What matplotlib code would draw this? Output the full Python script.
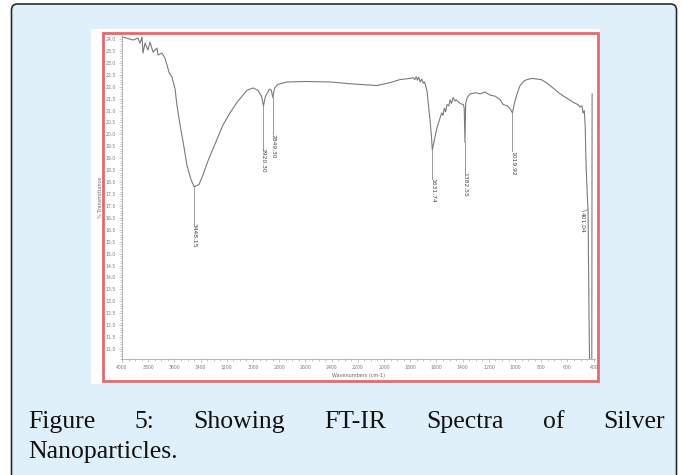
import matplotlib.pyplot as plt
import numpy as np
from matplotlib.patches import FancyBboxPatch, Rectangle
from matplotlib.ticker import MultipleLocator, FormatStrFormatter

# FT-IR spectrum (wavenumber cm-1, % transmittance)
wavenumber = [4000, 3992, 3916, 3878, 3863, 3847, 3840, 3824, 3802, 3786, 3763, 3733,
              3725, 3695, 3672, 3656, 3641, 3618, 3595, 3580, 3557, 3534, 3504, 3473,
              3448.15, 3412, 3382, 3343, 3305, 3229, 3176, 3122, 3046, 3000, 2962, 2935,
              2920.30, 2905, 2875, 2860, 2849.30, 2835, 2809, 2740, 2600, 2412, 2250,
              2053, 1950, 1878, 1800, 1778, 1765, 1755, 1745, 1735, 1725, 1712, 1700,
              1690, 1672, 1649, 1638, 1631.74, 1615, 1595, 1572, 1560, 1550, 1540, 1530,
              1519, 1505, 1496, 1485, 1473, 1460, 1450, 1420, 1395, 1388, 1382.55, 1377,
              1365, 1343, 1300, 1267, 1230, 1191, 1150, 1114, 1090, 1061, 1040, 1019.92,
              1005, 985, 962, 930, 908, 870, 832, 800, 756, 700, 656, 600, 557, 520, 504,
              490, 481, 472, 465, 458, 450, 443, 435, 425, 415, 412]
transmittance = [24.10, 24.08, 23.96, 24.04, 23.83, 24.08, 23.41, 23.83, 23.54, 23.87,
                 23.45, 23.62, 23.33, 23.41, 23.20, 22.90, 22.60, 22.40, 21.90, 21.20,
                 20.40, 19.70, 18.70, 18.10, 17.80, 17.90, 18.30, 18.90, 19.40, 20.40,
                 20.90, 21.35, 21.85, 21.95, 21.85, 21.60, 21.20, 21.60, 21.90, 21.85,
                 21.55, 21.95, 22.10, 22.20, 22.22, 22.20, 22.12, 22.05, 22.18, 22.30,
                 22.35, 22.38, 22.30, 22.42, 22.28, 22.40, 22.20, 22.32, 22.15, 22.20,
                 21.80, 20.60, 19.90, 19.35, 19.80, 20.30, 20.70, 20.90, 20.80, 21.10,
                 20.95, 21.25, 21.20, 21.45, 21.30, 21.55, 21.40, 21.45, 21.30, 21.25,
                 21.10, 19.67, 21.30, 21.55, 21.70, 21.75, 21.70, 21.78, 21.65, 21.60,
                 21.45, 21.25, 21.20, 21.10, 20.90, 21.30, 21.70, 22.05, 22.25, 22.30,
                 22.35, 22.32, 22.30, 22.15, 21.90, 21.70, 21.50, 21.35, 21.25, 21.15,
                 21.20, 20.90, 21.00, 20.40, 18.70, 17.60, 16.80, 12.00, 8.00, 8.00, 21.70]

peak_wn = [3448.15, 2920.30, 2849.30, 1631.74, 1382.55, 1019.92, 401.04]
peak_text = ['3448.15', '2920.30', '2849.30', '1631.74', '1382.55', '1019.92', '401.04']
label_y = [15.75, 18.9, 19.5, 17.65, 17.9, 18.8, 16.3]

caption_words = ['Figure', '5:', 'Showing', 'FT-IR', 'Spectra', 'of', 'Silver']
caption_line2 = 'Nanoparticles.'

W, H = 683, 475
fig = plt.figure(figsize=(W / 100, H / 100), dpi=100)

# background layer in pixel coordinates
bg = fig.add_axes([0, 0, 1, 1])
bg.set_xlim(0, W)
bg.set_ylim(H, 0)
bg.axis('off')
bg.add_patch(FancyBboxPatch((11.5, 4), 665, 490, boxstyle='round,pad=0,rounding_size=6',
                            facecolor='#dff0fb', edgecolor='#2b2b2b', lw=1.2))
bg.add_patch(Rectangle((91, 29), 509, 355, facecolor='white', edgecolor='none'))
bg.add_patch(Rectangle((103, 33), 495, 348, facecolor='none', edgecolor='#e8676b', lw=2))

# caption, justified on the first line
x_left, x_right, base1 = 28, 665, 428
fs = 18.5
texts = [bg.text(0, base1, w, fontsize=fs, family='Liberation Serif', color='#111111',
                 va='baseline', ha='left') for w in caption_words]
r = fig.canvas.get_renderer()
px_per_unit = fig.bbox.width / W
widths = [t.get_window_extent(renderer=r).width / px_per_unit for t in texts]
gap = (x_right - x_left - sum(widths)) / (len(texts) - 1)
x = x_left
for t, w in zip(texts, widths):
    t.set_x(x)
    x += w + gap
bg.text(x_left, 458, caption_line2, fontsize=fs, family='Liberation Serif',
        color='#111111', va='baseline', ha='left')

# spectrum axes
ax = fig.add_axes([122 / W, 1 - 359 / H, (595 - 122) / W, (359 - 35) / H])
ax.patch.set_alpha(0)
ax.plot(wavenumber, transmittance, color='#7a7a7a', lw=0.8)
ax.set_xlim(4000, 390)
ax.set_ylim(10.58, 24.17)

wn_sorted = np.array(wavenumber[::-1], dtype=float)
tr_sorted = np.array(transmittance[::-1], dtype=float)
for wn, txt, ly in zip(peak_wn, peak_text, label_y):
    if wn < 420:
        # last label sits left of the steep edge
        lx, cy, cx = 488, 16.85, 443
        ax.plot([cx, lx], [cy, ly + 0.45], color='#8a8a8a', lw=0.6)
    else:
        lx = wn
        cy = np.interp(wn, wn_sorted, tr_sorted)
        ax.plot([wn, wn], [cy, ly + 0.5], color='#8a8a8a', lw=0.6)
    ax.text(lx, ly, txt, rotation=270, fontsize=4.3, color='#444444',
            ha='center', va='center')

ax.xaxis.set_major_locator(MultipleLocator(200))
ax.xaxis.set_minor_locator(MultipleLocator(50))
ax.yaxis.set_major_locator(MultipleLocator(0.5))
ax.yaxis.set_minor_locator(MultipleLocator(0.1))
ax.xaxis.set_major_formatter(FormatStrFormatter('%d'))
ax.yaxis.set_major_formatter(FormatStrFormatter('%.1f'))
ax.tick_params(which='both', labelsize=3.3, labelcolor='#7a7a7a', color='#9a9a9a',
               width=0.4, pad=2)
ax.tick_params(which='major', length=2.2)
ax.tick_params(which='minor', length=1.2)
for s in ['top', 'right']:
    ax.spines[s].set_visible(False)
for s in ['left', 'bottom']:
    ax.spines[s].set_color('#9a9a9a')
    ax.spines[s].set_linewidth(0.5)
ax.set_ylabel('% Transmittance', fontsize=3.5, color='#666666', labelpad=2)
ax.set_xlabel('Wavenumbers (cm-1)', fontsize=3.5, color='#666666', labelpad=2)

fig.savefig('out.png', dpi=100)
